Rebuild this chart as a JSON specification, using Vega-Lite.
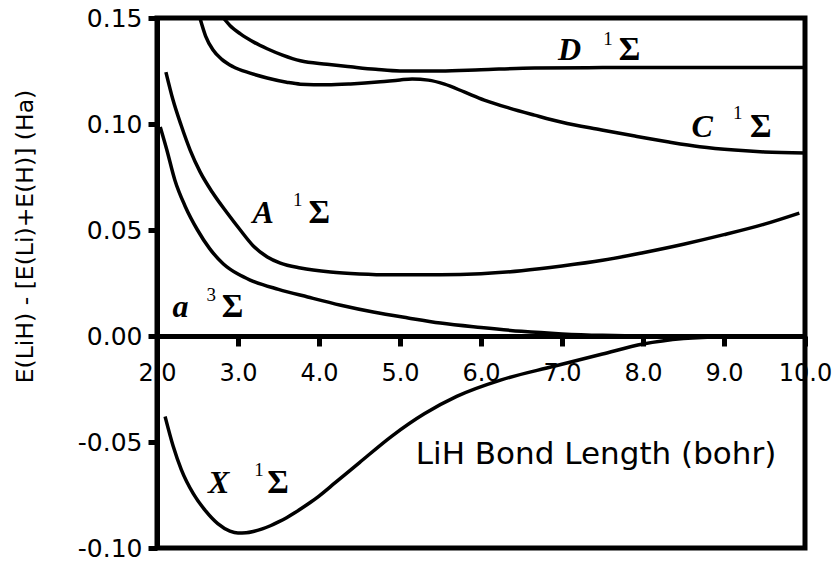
{
  "$schema": "https://vega.github.io/schema/vega-lite/v6.json",
  "width": 648,
  "height": 530,
  "autosize": {"type": "none"},
  "padding": {"left": 157, "top": 18, "right": 35, "bottom": 18},
  "background": "white",
  "config": {
    "view": {"stroke": "black", "strokeWidth": 5},
    "font": "DejaVu Sans"
  },
  "datasets": {
    "curves": [
      {"state": "X", "x": 2.10, "y": -0.038},
      {"state": "X", "x": 2.20, "y": -0.052},
      {"state": "X", "x": 2.30, "y": -0.063},
      {"state": "X", "x": 2.45, "y": -0.0745},
      {"state": "X", "x": 2.60, "y": -0.0825},
      {"state": "X", "x": 2.75, "y": -0.0885},
      {"state": "X", "x": 2.90, "y": -0.0920},
      {"state": "X", "x": 3.00, "y": -0.0929},
      {"state": "X", "x": 3.10, "y": -0.0928},
      {"state": "X", "x": 3.20, "y": -0.0921},
      {"state": "X", "x": 3.30, "y": -0.0910},
      {"state": "X", "x": 3.40, "y": -0.0895},
      {"state": "X", "x": 3.50, "y": -0.0877},
      {"state": "X", "x": 3.60, "y": -0.0857},
      {"state": "X", "x": 3.70, "y": -0.0834},
      {"state": "X", "x": 3.80, "y": -0.0809},
      {"state": "X", "x": 3.90, "y": -0.0783},
      {"state": "X", "x": 4.00, "y": -0.0755},
      {"state": "X", "x": 4.20, "y": -0.0692},
      {"state": "X", "x": 4.50, "y": -0.0597},
      {"state": "X", "x": 4.90, "y": -0.0472},
      {"state": "X", "x": 5.30, "y": -0.0367},
      {"state": "X", "x": 5.70, "y": -0.0285},
      {"state": "X", "x": 6.25, "y": -0.0207},
      {"state": "X", "x": 6.90, "y": -0.0143},
      {"state": "X", "x": 7.50, "y": -0.0085},
      {"state": "X", "x": 8.00, "y": -0.0038},
      {"state": "X", "x": 8.50, "y": -0.0012},
      {"state": "X", "x": 9.00, "y": -0.0003},
      {"state": "X", "x": 10.0, "y": 0.0},
      {"state": "a", "x": 2.04, "y": 0.0986},
      {"state": "a", "x": 2.12, "y": 0.088},
      {"state": "a", "x": 2.22, "y": 0.0736},
      {"state": "a", "x": 2.35, "y": 0.061},
      {"state": "a", "x": 2.50, "y": 0.050},
      {"state": "a", "x": 2.65, "y": 0.0412},
      {"state": "a", "x": 2.82, "y": 0.0340},
      {"state": "a", "x": 3.00, "y": 0.0292},
      {"state": "a", "x": 3.15, "y": 0.0264},
      {"state": "a", "x": 3.50, "y": 0.0220},
      {"state": "a", "x": 3.86, "y": 0.0184},
      {"state": "a", "x": 4.27, "y": 0.0145},
      {"state": "a", "x": 4.67, "y": 0.0113},
      {"state": "a", "x": 5.10, "y": 0.0085},
      {"state": "a", "x": 5.50, "y": 0.0061},
      {"state": "a", "x": 6.00, "y": 0.0040},
      {"state": "a", "x": 6.50, "y": 0.0022},
      {"state": "a", "x": 7.00, "y": 0.0010},
      {"state": "a", "x": 7.50, "y": 0.0003},
      {"state": "a", "x": 8.00, "y": 0.0},
      {"state": "a", "x": 10.0, "y": 0.0},
      {"state": "A", "x": 2.11, "y": 0.1245},
      {"state": "A", "x": 2.198, "y": 0.1113},
      {"state": "A", "x": 2.297, "y": 0.0995},
      {"state": "A", "x": 2.409, "y": 0.0877},
      {"state": "A", "x": 2.532, "y": 0.0774},
      {"state": "A", "x": 2.681, "y": 0.0679},
      {"state": "A", "x": 2.867, "y": 0.0580},
      {"state": "A", "x": 3.028, "y": 0.0500},
      {"state": "A", "x": 3.189, "y": 0.0425},
      {"state": "A", "x": 3.362, "y": 0.0373},
      {"state": "A", "x": 3.523, "y": 0.0344},
      {"state": "A", "x": 3.771, "y": 0.0321},
      {"state": "A", "x": 4.142, "y": 0.0302},
      {"state": "A", "x": 4.50, "y": 0.0293},
      {"state": "A", "x": 4.89, "y": 0.0289},
      {"state": "A", "x": 5.50, "y": 0.0289},
      {"state": "A", "x": 6.00, "y": 0.0294},
      {"state": "A", "x": 6.50, "y": 0.0308},
      {"state": "A", "x": 7.00, "y": 0.0330},
      {"state": "A", "x": 7.50, "y": 0.0357},
      {"state": "A", "x": 8.00, "y": 0.0393},
      {"state": "A", "x": 8.50, "y": 0.0433},
      {"state": "A", "x": 9.00, "y": 0.0478},
      {"state": "A", "x": 9.50, "y": 0.0528},
      {"state": "A", "x": 9.93, "y": 0.0580},
      {"state": "C", "x": 2.53, "y": 0.15},
      {"state": "C", "x": 2.60, "y": 0.1415},
      {"state": "C", "x": 2.69, "y": 0.135},
      {"state": "C", "x": 2.80, "y": 0.1305},
      {"state": "C", "x": 2.94, "y": 0.127},
      {"state": "C", "x": 3.15, "y": 0.124},
      {"state": "C", "x": 3.36, "y": 0.1217},
      {"state": "C", "x": 3.60, "y": 0.1197},
      {"state": "C", "x": 3.77, "y": 0.1188},
      {"state": "C", "x": 4.10, "y": 0.1185},
      {"state": "C", "x": 4.39, "y": 0.1189},
      {"state": "C", "x": 4.76, "y": 0.1199},
      {"state": "C", "x": 5.00, "y": 0.1208},
      {"state": "C", "x": 5.15, "y": 0.1212},
      {"state": "C", "x": 5.35, "y": 0.1207},
      {"state": "C", "x": 5.55, "y": 0.1188},
      {"state": "C", "x": 5.80, "y": 0.1150},
      {"state": "C", "x": 6.04, "y": 0.1113},
      {"state": "C", "x": 6.35, "y": 0.1075},
      {"state": "C", "x": 6.66, "y": 0.1042},
      {"state": "C", "x": 7.00, "y": 0.1008},
      {"state": "C", "x": 7.49, "y": 0.0972},
      {"state": "C", "x": 7.90, "y": 0.0943},
      {"state": "C", "x": 8.32, "y": 0.0915},
      {"state": "C", "x": 8.70, "y": 0.0893},
      {"state": "C", "x": 9.13, "y": 0.0877},
      {"state": "C", "x": 9.50, "y": 0.0868},
      {"state": "C", "x": 10.0, "y": 0.0863},
      {"state": "D", "x": 2.82, "y": 0.15},
      {"state": "D", "x": 2.90, "y": 0.1465},
      {"state": "D", "x": 3.03, "y": 0.1425},
      {"state": "D", "x": 3.20, "y": 0.1385},
      {"state": "D", "x": 3.36, "y": 0.1355},
      {"state": "D", "x": 3.55, "y": 0.1325},
      {"state": "D", "x": 3.77, "y": 0.1298},
      {"state": "D", "x": 4.10, "y": 0.1282},
      {"state": "D", "x": 4.39, "y": 0.1270},
      {"state": "D", "x": 4.70, "y": 0.1258},
      {"state": "D", "x": 5.00, "y": 0.1250},
      {"state": "D", "x": 5.50, "y": 0.1250},
      {"state": "D", "x": 6.00, "y": 0.1256},
      {"state": "D", "x": 6.66, "y": 0.1264},
      {"state": "D", "x": 7.50, "y": 0.1266},
      {"state": "D", "x": 8.50, "y": 0.1267},
      {"state": "D", "x": 10.0, "y": 0.1267}
    ],
    "letters": [
      {"t": "D", "x": 6.95, "y": 0.1302},
      {"t": "C", "x": 8.60, "y": 0.0939},
      {"t": "A", "x": 3.18, "y": 0.0533},
      {"t": "a", "x": 2.19, "y": 0.0090},
      {"t": "X", "x": 2.63, "y": -0.0741}
    ],
    "sups": [
      {"t": "1", "x": 7.51, "y": 0.1373},
      {"t": "1", "x": 9.11, "y": 0.1024},
      {"t": "1", "x": 3.68, "y": 0.0613},
      {"t": "3", "x": 2.61, "y": 0.0165},
      {"t": "1", "x": 3.20, "y": -0.0660}
    ],
    "sigmas": [
      {"t": "Σ", "x": 7.70, "y": 0.1302},
      {"t": "Σ", "x": 9.32, "y": 0.0939},
      {"t": "Σ", "x": 3.87, "y": 0.0533},
      {"t": "Σ", "x": 2.80, "y": 0.0090},
      {"t": "Σ", "x": 3.36, "y": -0.0741}
    ],
    "xtitle": [
      {"t": "LiH Bond Length (bohr)", "x": 5.195, "y": -0.0604}
    ]
  },
  "encoding": {
    "x": {
      "field": "x",
      "type": "quantitative",
      "scale": {"domain": [2, 10], "nice": false, "zero": false},
      "axis": {
        "title": null,
        "values": [2, 3, 4, 5, 6, 7, 8, 9, 10],
        "format": ".1f",
        "offset": -212,
        "grid": false,
        "domainColor": "black",
        "domainWidth": 5,
        "tickColor": "black",
        "tickWidth": 5,
        "tickSize": 10,
        "labelFont": "DejaVu Sans",
        "labelFontSize": 24,
        "labelColor": "black",
        "labelPadding": 15,
        "labelFlush": false,
        "labelOverlap": false
      }
    },
    "y": {
      "field": "y",
      "type": "quantitative",
      "scale": {"domain": [-0.1, 0.15], "nice": false, "zero": false},
      "axis": {
        "title": "E(LiH) - [E(Li)+E(H)] (Ha)",
        "values": [-0.1, -0.05, 0, 0.05, 0.1, 0.15],
        "format": ".2f",
        "labelExpr": "replace(datum.label, '−', '-')",
        "grid": false,
        "domainColor": "black",
        "domainWidth": 5,
        "tickColor": "black",
        "tickWidth": 5,
        "tickSize": 9,
        "labelFont": "DejaVu Sans",
        "labelFontSize": 25,
        "labelColor": "black",
        "labelPadding": 6,
        "labelFlush": false,
        "labelOverlap": false,
        "titleFont": "DejaVu Sans",
        "titleFontSize": 23.5,
        "titleFontWeight": "normal",
        "titleColor": "black",
        "titlePadding": 40,
        "titleY": 218
      }
    }
  },
  "layer": [
    {
      "data": {"name": "curves"},
      "mark": {"type": "line", "interpolate": "monotone", "color": "black", "strokeWidth": 3.5, "clip": true},
      "encoding": {"detail": {"field": "state", "type": "nominal"}}
    },
    {
      "data": {"name": "letters"},
      "mark": {"type": "text", "font": "Liberation Serif", "fontStyle": "italic", "fontWeight": "bold", "fontSize": 32, "align": "left", "baseline": "alphabetic", "color": "black"},
      "encoding": {"text": {"field": "t", "type": "nominal"}}
    },
    {
      "data": {"name": "sups"},
      "mark": {"type": "text", "font": "Liberation Serif", "fontSize": 19, "align": "left", "baseline": "alphabetic", "color": "black"},
      "encoding": {"text": {"field": "t", "type": "nominal"}}
    },
    {
      "data": {"name": "sigmas"},
      "mark": {"type": "text", "font": "Liberation Serif", "fontWeight": "bold", "fontSize": 33, "align": "left", "baseline": "alphabetic", "color": "black"},
      "encoding": {"text": {"field": "t", "type": "nominal"}}
    },
    {
      "data": {"name": "xtitle"},
      "mark": {"type": "text", "font": "DejaVu Sans", "fontSize": 31, "align": "left", "baseline": "alphabetic", "color": "black"},
      "encoding": {"text": {"field": "t", "type": "nominal"}}
    }
  ]
}
